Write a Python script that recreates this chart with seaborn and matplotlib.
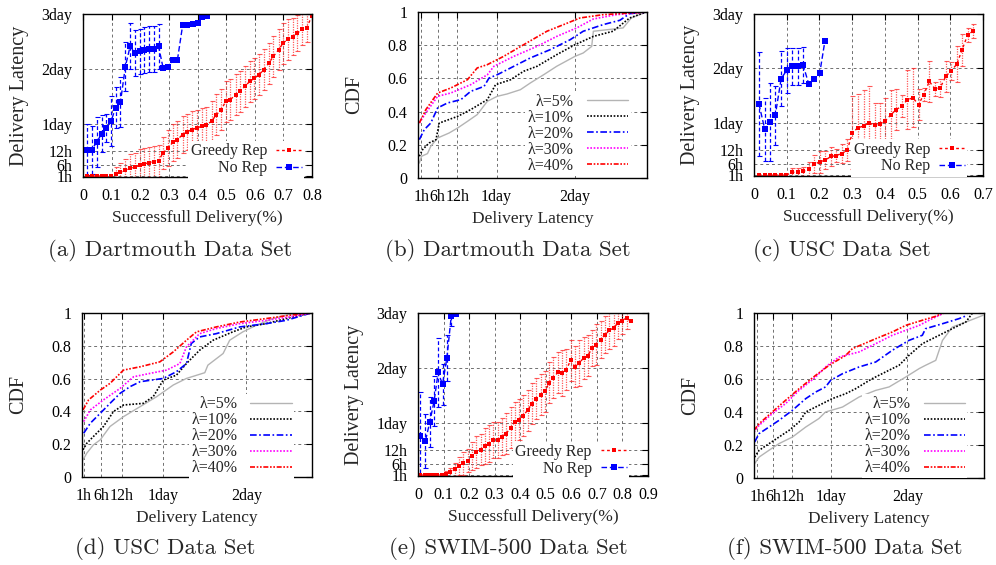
import numpy as np
import pandas as pd
import matplotlib
matplotlib.use("Agg")
import matplotlib.pyplot as plt
import seaborn as sns

# ------------------------------------------------------------------ data
lat_ticks = [1, 6, 12, 24, 48, 72]
lat_labels = ["1h", "6h", "12h", "1day", "2day", "3day"]
cdf_xticks = [1, 6, 12, 24, 48]
cdf_xlabels = ["1h", "6h", "12h", "1day", "2day"]
cdf_yticks = [0, 0.2, 0.4, 0.6, 0.8, 1.0]
cdf_ylabels = ["0", "0.2", "0.4", "0.6", "0.8", "1"]
lam_labels = ["λ=5%", "λ=10%", "λ=20%", "λ=30%", "λ=40%"]
series_labels = ["Greedy Rep", "No Rep"]
captions = ["(a) Dartmouth Data Set", "(b) Dartmouth Data Set", "(c) USC Data Set",
            "(d) USC Data Set", "(e) SWIM-500 Data Set", "(f) SWIM-500 Data Set"]

# (a) Dartmouth: latency (hours) vs successful delivery
a_norep_x = [0.015, 0.030, 0.048, 0.065, 0.081, 0.098, 0.114, 0.131, 0.148, 0.165, 0.181, 0.198, 0.214,
             0.231, 0.248, 0.264, 0.280, 0.298, 0.314, 0.330, 0.348, 0.365, 0.383, 0.400, 0.415, 0.434]
a_norep_y = [12.6, 12.6, 15.8, 19.6, 22.0, 25.0, 31.0, 33.5, 49.0, 58.0, 54.9, 55.6, 56.3,
             56.6, 56.6, 57.8, 48.3, 48.7, 52.0, 52.0, 67.0, 67.0, 67.7, 68.0, 70.6, 71.3]
a_norep_err = [11, 10.5, 11, 8, 6, 11, 9, 11, 10.7, 10, 10, 10, 10,
               10, 10, 10, 0, 0, 0, 0, 0, 0, 0, 0, 0, 0]
a_greedy_x = [0.015, 0.031, 0.048, 0.065, 0.081, 0.098, 0.114, 0.131, 0.148, 0.164, 0.181, 0.198,
              0.214, 0.231, 0.248, 0.264, 0.280, 0.298, 0.314, 0.330, 0.348, 0.364, 0.381, 0.398,
              0.415, 0.431, 0.449, 0.466, 0.483, 0.499, 0.515, 0.533, 0.549, 0.565, 0.583, 0.599,
              0.615, 0.631, 0.649, 0.665, 0.683, 0.699, 0.715, 0.733, 0.749, 0.765, 0.781, 0.800]
a_greedy_y = [1.0, 1.0, 1.0, 1.0, 1.0, 1.0, 2.0, 2.7, 3.6, 4.5, 4.9, 5.7,
              6.4, 6.8, 7.3, 7.8, 11.2, 13.4, 15.8, 17.0, 19.2, 20.4, 21.4, 22.1,
              22.8, 23.4, 25.0, 27.9, 30.1, 33.8, 34.5, 36.7, 38.1, 40.3, 42.5, 43.9,
              45.4, 47.6, 50.5, 53.4, 56.3, 59.2, 61.0, 62.1, 63.6, 65.3, 65.8, 71.3]
a_greedy_err = [0, 0, 0, 0, 0, 0, 3, 4, 5, 6, 6, 7,
                7, 7, 7, 7, 7, 8, 8, 8, 8, 8, 8, 8,
                8, 8, 9, 9, 9, 9, 9, 9, 9, 9, 9, 9,
                9, 9, 9, 9, 9, 9, 9, 8, 8, 7, 6, 0]

# (c) USC
c_norep_x = [0.015, 0.033, 0.050, 0.065, 0.083, 0.100, 0.117, 0.133, 0.150, 0.167, 0.184, 0.201, 0.217]
c_norep_y = [32.4, 21.1, 24.4, 27.3, 43.5, 47.2, 48.9, 48.9, 49.6, 41.3, 43.5, 46.0, 60.3]
c_norep_err = [23, 14, 17, 13, 12, 10, 8, 8, 8, 0, 0, 0, 0]
c_greedy_x = [0.015, 0.033, 0.049, 0.065, 0.083, 0.099, 0.116, 0.133, 0.150, 0.167, 0.184, 0.201,
              0.218, 0.235, 0.251, 0.268, 0.285, 0.301, 0.318, 0.335, 0.351, 0.369, 0.385, 0.401,
              0.419, 0.435, 0.452, 0.469, 0.486, 0.503, 0.519, 0.536, 0.553, 0.569, 0.586, 0.603,
              0.620, 0.636, 0.653, 0.670]
c_greedy_y = [1, 1, 1, 1, 1, 1, 2.2, 2.3, 2.6, 3.6, 5.8, 6.8,
              7.6, 9.2, 9.6, 10.5, 12.0, 19.7, 21.9, 22.6, 24.1, 22.9, 23.6, 24.8,
              27.7, 29.9, 31.4, 34.3, 35.0, 32.1, 36.5, 42.3, 39.0, 39.4, 44.5, 47.0,
              49.9, 56.2, 62.8, 64.5]
c_greedy_err = [0, 0, 0, 0, 0, 0, 2, 2, 2, 3, 4, 5,
                4, 4, 3, 4, 5, 16, 15, 16, 16, 10, 9, 10,
                11, 9, 5, 13, 13, 7, 3, 9, 3, 4, 7, 4,
                8, 7, 3, 3]

# (e) SWIM-500
e_norep_x = [0.009, 0.029, 0.046, 0.063, 0.079, 0.096, 0.113, 0.130, 0.147]
e_norep_y = [18.3, 15.9, 24.2, 33.4, 46.0, 40.7, 52.3, 70.5, 71.7]
e_norep_err = [19, 12, 11, 11, 15, 9, 10, 4, 0]
e_greedy_x = [0.009, 0.026, 0.042, 0.059, 0.076, 0.093, 0.110, 0.127, 0.144, 0.161, 0.177, 0.194,
              0.211, 0.228, 0.245, 0.261, 0.278, 0.295, 0.312, 0.328, 0.345, 0.362, 0.379, 0.396,
              0.412, 0.429, 0.446, 0.463, 0.480, 0.497, 0.513, 0.530, 0.547, 0.564, 0.581, 0.597,
              0.614, 0.631, 0.648, 0.665, 0.681, 0.698, 0.715, 0.732, 0.749, 0.765, 0.782, 0.799,
              0.816, 0.833]
e_greedy_y = [1, 1, 1, 1, 1, 1, 1.6, 2.3, 3.5, 4.9, 6.2, 7.3,
              9.3, 11.1, 12.2, 13.7, 14.8, 16.3, 16.3, 17.8, 19.2, 21.7, 24.2, 25.3,
              27.1, 29.4, 32.3, 34.4, 36.3, 37.7, 41.4, 43.6, 46.0, 45.8, 47.2, 51.3,
              48.4, 50.1, 52.3, 53.3, 56.7, 58.1, 60.3, 62.5, 64.4, 65.4, 67.6, 68.6,
              69.9, 68.3]
e_greedy_err = [0, 0, 0, 0, 0, 0, 1, 2, 3, 4, 5, 5,
                6, 7, 7, 8, 8, 8, 8, 8, 9, 9, 9, 9,
                9, 9, 9, 9, 9, 9, 9, 9, 9, 10, 9, 9,
                9, 10, 9, 9, 8, 9, 8, 8, 8, 8, 7, 6,
                5, 0]

# (b) Dartmouth CDF: x in hours
b_x = [
    [0.4, 1.1, 2.9, 3.9, 6.0, 9.5, 12.1, 15.1, 18.1, 21.2, 24.2, 27.2, 31.3, 34.3, 38.4, 42.4, 48.0, 50.5,
     53.1, 53.6, 62.7, 65.2, 69.8],
    [0.4, 1.4, 3.4, 5.5, 6.5, 12.1, 16.1, 21.2, 23.7, 28.3, 32.3, 36.4, 42.4, 48.0, 53.6, 59.6, 64.7, 69.8],
    [0.4, 1.9, 3.9, 6.0, 9.0, 13.1, 16.1, 20.2, 21.7, 24.2, 29.3, 34.3, 40.4, 46.5, 50.5, 56.6, 61.7, 64.7, 69.8],
    [0.4, 2.4, 6.0, 10.0, 16.1, 21.2, 23.2, 29.3, 36.4, 42.4, 48.5, 53.6, 60.7, 69.8],
    [0.4, 2.4, 6.0, 10.0, 15.1, 18.1, 21.2, 26.2, 32.3, 39.4, 44.5, 49.5, 56.6, 69.8],
]
b_y = [
    [0.090, 0.131, 0.147, 0.191, 0.241, 0.271, 0.301, 0.341, 0.382, 0.462, 0.492, 0.506, 0.532, 0.572, 0.622,
     0.673, 0.733, 0.753, 0.793, 0.884, 0.904, 0.964, 1.0],
    [0.131, 0.171, 0.211, 0.231, 0.331, 0.371, 0.412, 0.472, 0.562, 0.592, 0.643, 0.673, 0.743, 0.803, 0.853,
     0.884, 0.964, 1.0],
    [0.231, 0.291, 0.331, 0.422, 0.452, 0.472, 0.522, 0.552, 0.602, 0.622, 0.673, 0.723, 0.773, 0.833, 0.884,
     0.924, 0.950, 0.990, 1.0],
    [0.331, 0.392, 0.492, 0.512, 0.562, 0.622, 0.673, 0.733, 0.793, 0.853, 0.904, 0.958, 0.984, 1.0],
    [0.331, 0.412, 0.512, 0.542, 0.592, 0.663, 0.683, 0.733, 0.803, 0.884, 0.924, 0.964, 0.984, 1.0],
]

# (d) USC CDF
d_x = [
    [0.8, 1.9, 3.8, 5.8, 8.6, 12.5, 17.3, 22.1, 26.9, 30.7, 36.0, 36.9, 41.3, 43.2, 47.0, 50.9, 55.7, 60.5, 66.7],
    [0.8, 1.9, 3.8, 6.7, 9.6, 12.5, 18.2, 21.1, 24.0, 27.8, 30.7, 34.5, 38.4, 44.1, 48.0, 53.7, 59.5, 66.7],
    [1.0, 2.9, 5.8, 8.6, 11.5, 14.4, 17.3, 24.0, 27.8, 30.7, 32.1, 34.5, 39.3, 46.1, 53.7, 59.5, 66.7],
    [1.0, 2.9, 6.7, 11.5, 15.4, 20.2, 25.0, 28.8, 30.7, 34.5, 39.3, 46.1, 53.7, 60.5, 66.7],
    [0.8, 2.4, 5.8, 8.6, 12.5, 17.3, 23.0, 26.9, 30.7, 33.6, 39.3, 46.1, 53.7, 60.5, 66.7],
]
d_y = [
    [0.105, 0.146, 0.196, 0.227, 0.308, 0.368, 0.429, 0.490, 0.561, 0.601, 0.636, 0.682, 0.753, 0.834, 0.885,
     0.925, 0.966, 0.992, 1.0],
    [0.166, 0.206, 0.247, 0.308, 0.399, 0.439, 0.449, 0.490, 0.591, 0.621, 0.692, 0.773, 0.834, 0.885, 0.915,
     0.935, 0.966, 1.0],
    [0.267, 0.328, 0.389, 0.449, 0.510, 0.551, 0.581, 0.601, 0.642, 0.692, 0.814, 0.854, 0.874, 0.915, 0.935,
     0.955, 1.0],
    [0.338, 0.409, 0.470, 0.540, 0.611, 0.632, 0.652, 0.692, 0.794, 0.874, 0.905, 0.935, 0.955, 0.976, 1.0],
    [0.409, 0.470, 0.530, 0.571, 0.652, 0.672, 0.702, 0.763, 0.834, 0.885, 0.915, 0.945, 0.966, 0.986, 1.0],
]

# (f) SWIM-500 CDF
f_x = [
    [0.2, 1.6, 4.7, 7.8, 12.0, 16.2, 20.3, 22.4, 27.7, 32.9, 38.1, 42.3, 47.5, 51.7, 53.7, 56.9, 59.0, 62.1,
     66.3, 71.7],
    [0.2, 1.6, 4.7, 7.8, 11.0, 14.1, 16.2, 20.3, 24.5, 28.7, 31.8, 37.0, 43.3, 45.4, 48.5, 52.7, 55.8, 59.0,
     63.1, 66.3, 68.4],
    [0.2, 1.6, 4.7, 7.8, 12.0, 16.2, 19.3, 22.4, 24.0, 27.7, 32.9, 38.1, 43.3, 48.5, 52.7, 53.7, 59.0, 64.2, 66.8],
    [0.0, 1.6, 5.7, 9.9, 14.1, 19.3, 22.4, 26.6, 32.9, 38.1, 43.3, 47.5, 51.7, 54.8, 59.5],
    [0.0, 1.6, 5.7, 9.9, 14.1, 19.3, 23.5, 28.7, 30.8, 38.1, 43.3, 47.5, 52.7, 56.9, 59.0],
]
f_y = [
    [0.087, 0.127, 0.168, 0.208, 0.248, 0.309, 0.360, 0.400, 0.430, 0.491, 0.531, 0.552, 0.612, 0.663, 0.683,
     0.713, 0.834, 0.915, 0.945, 0.986],
    [0.127, 0.168, 0.208, 0.248, 0.289, 0.339, 0.400, 0.440, 0.481, 0.511, 0.541, 0.602, 0.663, 0.683, 0.743,
     0.814, 0.844, 0.875, 0.915, 0.945, 1.0],
    [0.218, 0.269, 0.309, 0.349, 0.410, 0.481, 0.521, 0.552, 0.592, 0.632, 0.673, 0.703, 0.774, 0.834, 0.865,
     0.905, 0.935, 0.966, 0.986],
    [0.279, 0.319, 0.390, 0.451, 0.531, 0.612, 0.673, 0.733, 0.764, 0.814, 0.865, 0.895, 0.925, 0.956, 1.0],
    [0.289, 0.329, 0.400, 0.471, 0.541, 0.622, 0.683, 0.743, 0.784, 0.844, 0.885, 0.925, 0.956, 0.980, 1.0],
]

# ------------------------------------------------------------------ style
sns.set_theme(style="white")
plt.rcParams["font.family"] = ["Liberation Serif", "DejaVu Serif"]
plt.rcParams["axes.unicode_minus"] = False

lam_colors = ["#b4b4b4", "#000000", "#0000ff", "#ff00ff", "#ff0000"]
lam_styles = ["-", (0, (1, 1)), (0, (4, 1.5, 1, 1.5)), (0, (1, 1)), (0, (3, 1, 1, 1, 1, 1))]
lam_widths = [1.0, 1.2, 1.2, 1.2, 1.2]

TICK_FS = 11.5
XLABEL_FS = 12.5
YLABEL_FS = 14.5
LEG_FS = 11.5

fig = plt.figure(figsize=(9.96, 5.65), dpi=100)
W, H = 996.0, 565.0


def make_ax(l, r, t, b):
    ax = fig.add_axes([l / W, (H - b) / H, (r - l) / W, (b - t) / H])
    ax._px = (r - l, b - t)
    return ax


def style_axes(ax):
    ax.grid(True, color="#707070", linestyle=(0, (3, 3)), linewidth=0.7)
    ax.set_axisbelow(True)
    ax.tick_params(direction="in", length=4, width=0.8, top=True, right=True,
                   labelsize=TICK_FS, colors="black")
    ax.tick_params(axis="x", pad=8)
    ax.tick_params(axis="y", pad=7.5)
    for s in ax.spines.values():
        s.set_color("black")
        s.set_linewidth(1.0)
    wpx, hpx = ax._px
    ax.yaxis.set_label_coords(-54.0 / wpx, 0.5)
    ax.xaxis.set_label_coords(0.5, -33.0 / hpx)


def latency_panel(ax, gx, gy, ge, nx, ny, ne, xmax, leg_anchor):
    gx, gy, ge = map(np.asarray, (gx, gy, ge))
    nx, ny, ne = map(np.asarray, (nx, ny, ne))
    dfg = pd.DataFrame({"x": gx, "y": gy})
    dfn = pd.DataFrame({"x": nx, "y": ny})
    m = ge > 0
    eb = ax.errorbar(gx[m], gy[m], yerr=ge[m], fmt="none", ecolor="#ff3030",
                     elinewidth=0.9, capsize=1.8, capthick=0.8, alpha=0.8)
    eb.lines[2][0].set_linestyle((0, (1, 1)))
    m = ne > 0
    eb = ax.errorbar(nx[m], ny[m], yerr=ne[m], fmt="none", ecolor="#0000ff",
                     elinewidth=0.9, capsize=1.8, capthick=0.8)
    eb.lines[2][0].set_linestyle((0, (3, 2)))
    sns.lineplot(data=dfg, x="x", y="y", ax=ax, color="#ff0000", sort=False,
                 marker="s", markersize=3, markeredgewidth=0, linewidth=1.0,
                 linestyle=(0, (2, 2)), label=series_labels[0])
    sns.lineplot(data=dfn, x="x", y="y", ax=ax, color="#0000ff", sort=False,
                 marker="s", markersize=5, markeredgewidth=0, linewidth=1.0,
                 linestyle=(0, (4, 2)), label=series_labels[1])
    ax.set_xlim(0, xmax)
    ax.set_ylim(0.6, 72)
    xt = np.round(np.arange(0, xmax + 1e-9, 0.1), 1)
    ax.set_xticks(xt)
    ax.set_xticklabels([f"{v:g}" for v in xt])
    ax.set_yticks(lat_ticks)
    ax.set_yticklabels(lat_labels)
    ax.set_xlabel("Successfull Delivery(%)", fontsize=XLABEL_FS)
    ax.set_ylabel("Delivery Latency", fontsize=YLABEL_FS)
    style_axes(ax)
    h, l = ax.get_legend_handles_labels()
    ax.legend(h, l, loc="lower right", bbox_to_anchor=leg_anchor, markerfirst=False,
              fontsize=LEG_FS, frameon=True, fancybox=False, facecolor="white",
              edgecolor="none", framealpha=1, handlelength=1.6, handletextpad=0.6,
              labelspacing=0.05, borderpad=0.15, borderaxespad=0.0)


def cdf_panel(ax, xs, ys, xmin, xmax, leg_anchor):
    for i in range(5):
        df = pd.DataFrame({"x": xs[i], "y": ys[i]})
        sns.lineplot(data=df, x="x", y="y", ax=ax, color=lam_colors[i], sort=False,
                     linewidth=lam_widths[i], linestyle=lam_styles[i], label=lam_labels[i])
    ax.set_xlim(xmin, xmax)
    ax.set_ylim(0, 1)
    ax.set_xticks(cdf_xticks)
    ax.set_xticklabels(cdf_xlabels)
    ax.set_yticks(cdf_yticks)
    ax.set_yticklabels(cdf_ylabels)
    ax.set_xlabel("Delivery Latency", fontsize=XLABEL_FS)
    ax.set_ylabel("CDF", fontsize=YLABEL_FS)
    style_axes(ax)
    h, l = ax.get_legend_handles_labels()
    ax.legend(h, l, loc="lower right", bbox_to_anchor=leg_anchor, markerfirst=False,
              fontsize=LEG_FS, frameon=True, fancybox=False, facecolor="white",
              edgecolor="none", framealpha=1, handlelength=2.6, handletextpad=0.8,
              labelspacing=0.0, borderpad=0.15, borderaxespad=0.0)


ax_a = make_ax(83, 312, 14, 177)
latency_panel(ax_a, a_greedy_x, a_greedy_y, a_greedy_err, a_norep_x, a_norep_y, a_norep_err,
              0.8, (0.967, -0.01))
ax_b = make_ax(418, 647, 12, 178)
cdf_panel(ax_b, b_x, b_y, 0, 70, (0.928, 0.01))
ax_c = make_ax(754, 983, 14, 176)
latency_panel(ax_c, c_greedy_x, c_greedy_y, c_greedy_err, c_norep_x, c_norep_y, c_norep_err,
              0.7, (0.932, -0.005))
ax_d = make_ax(82, 312, 313, 477)
cdf_panel(ax_d, d_x, d_y, 0.5, 67, (0.923, -0.01))
ax_e = make_ax(418, 648, 313, 476)
latency_panel(ax_e, e_greedy_x, e_greedy_y, e_greedy_err, e_norep_x, e_norep_y, e_norep_err,
              0.9, (0.919, -0.02))
ax_f = make_ax(754, 984, 313, 478)
cdf_panel(ax_f, f_x, f_y, 0, 72, (0.928, -0.003))

cap_pos = [(170, 250), (508, 250), (842, 250), (165, 549), (508, 549), (845, 549)]
for (cx, cy), txt in zip(cap_pos, captions):
    fig.text(cx / W, (H - cy) / H, txt, family=["cmr10", "DejaVu Serif"], fontsize=16.5,
             ha="center", va="center")

fig.savefig("out.png", dpi=100)
